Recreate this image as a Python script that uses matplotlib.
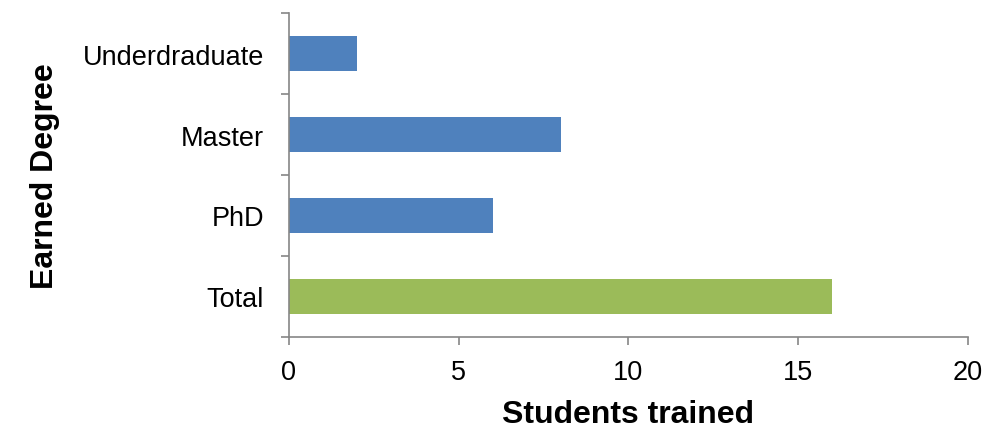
import matplotlib
matplotlib.use("Agg")
import matplotlib.pyplot as plt

categories = ["Underdraduate", "Master", "PhD", "Total"]
values = [2, 8, 6, 16]
bar_colors = ["#4F81BD", "#4F81BD", "#4F81BD", "#9BBB59"]
x_ticks = [0, 5, 10, 15, 20]

plt.rcParams['font.family'] = ['Liberation Sans', 'DejaVu Sans']

fig = plt.figure(figsize=(9.87, 4.31), dpi=100)
ax = fig.add_axes([0.2928, 0.2158, 0.9807 - 0.2928, 0.9675 - 0.2158])

ypos = list(range(len(categories)))[::-1]
ax.barh(ypos, values, height=0.42, color=bar_colors)

ax.set_xlim(0, 20)
ax.set_ylim(-0.5, len(categories) - 0.5)
ax.set_xticks(x_ticks)
ax.set_xticklabels([str(t) for t in x_ticks], fontsize=19.5)
ax.set_yticks(ypos)
ax.set_yticklabels(categories, fontsize=19.5)
ax.set_yticks([i + 0.5 for i in range(-1, len(categories))], minor=True)

for s in ["top", "right"]:
    ax.spines[s].set_visible(False)
for s in ["left", "bottom"]:
    ax.spines[s].set_color("#868686")
    ax.spines[s].set_linewidth(1.2)

ax.tick_params(axis='y', which='major', length=0, pad=18)
ax.tick_params(axis='y', which='minor', length=6, color="#868686", width=1.2)
ax.tick_params(axis='x', which='major', length=6, color="#868686", width=1.2, pad=10)

ax.set_xlabel("Students trained", fontsize=23, fontweight='bold', labelpad=10)
ax.set_ylabel("Earned Degree", fontsize=23, fontweight='bold', labelpad=16)

fig.savefig("out.png", dpi=100)
